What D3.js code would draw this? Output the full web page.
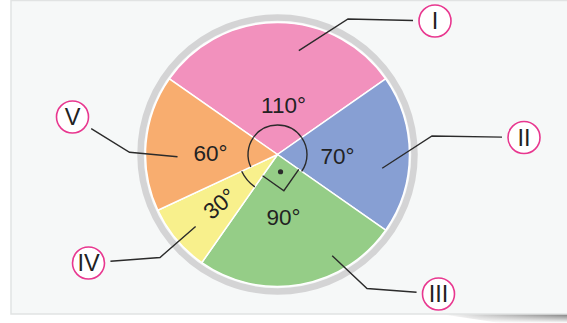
<!DOCTYPE html>
<html>
<head>
<meta charset="utf-8">
<script src="https://cdn.jsdelivr.net/npm/d3@7/dist/d3.min.js"></script>
<style>
  html, body { margin: 0; padding: 0; background: #ffffff; }
  svg { display: block; }
  text { font-family: "Liberation Sans", Arial, sans-serif; }
</style>
</head>
<body>
<svg id="chart" width="567" height="323"></svg>
<script>
// ---- data ----
const categories = ["I", "II", "III", "IV", "V"];
const angles = [110, 70, 90, 30, 60];
const angleLabels = ["110°", "70°", "90°", "30°", "60°"];
const colors = ["#f291bd", "#879fd3", "#95cd87", "#f8f08c", "#f8ad6f"];
const markerTypes = ["arc", "arc", "right", "arc2", "arc"];

// ---- layout ----
const W = 567, H = 323;
const cx = 277.5, cy = 154.5;
const R = 132;
const startDeg = -55;

const svg = d3.select("#chart");

// soft shadow under panel (bottom right)
const defs = svg.append("defs");
const gH = defs.append("linearGradient").attr("id", "shH")
  .attr("x1", "0").attr("x2", "1").attr("y1", "0").attr("y2", "0");
gH.append("stop").attr("offset", "0").attr("stop-color", "#fff");
gH.append("stop").attr("offset", "0.35").attr("stop-color", "#c8c8c8");
gH.append("stop").attr("offset", "1").attr("stop-color", "#7a7a7a");
const mk = defs.append("mask").attr("id", "shMask");
const gV = defs.append("linearGradient").attr("id", "shV")
  .attr("x1", "0").attr("x2", "0").attr("y1", "0").attr("y2", "1");
gV.append("stop").attr("offset", "0").attr("stop-color", "#fff");
gV.append("stop").attr("offset", "1").attr("stop-color", "#000");
mk.append("rect").attr("x", 430).attr("y", 314).attr("width", 137).attr("height", 9)
  .attr("fill", "url(#shV)");
svg.append("path")
  .attr("d", "M440,314 L567,314 L567,323 L500,323 Z")
  .attr("fill", "url(#shH)").attr("mask", "url(#shMask)");

// panel
svg.append("rect")
  .attr("x", 11).attr("y", 0.5).attr("width", 570).attr("height", 313.5)
  .attr("fill", "#f6f8f8").attr("stroke", "#e1e3e3").attr("stroke-width", 1.5);

const g = svg.append("g").attr("transform", `translate(${cx},${cy})`);

// outer grey ring
g.append("circle").attr("r", 137).attr("fill", "none")
  .attr("stroke", "#d4d4d5").attr("stroke-width", 6.5);

const toRad = d => d * Math.PI / 180;
const pie = d3.pie().sort(null).value(d => d.v)
  .startAngle(toRad(startDeg)).endAngle(toRad(startDeg + 360));
const data = categories.map((c, i) => ({ c, v: angles[i], label: angleLabels[i], color: colors[i], mk: markerTypes[i] }));
const arcs = pie(data);
const arcGen = d3.arc().innerRadius(0).outerRadius(R);

g.selectAll("path.slice").data(arcs).enter().append("path")
  .attr("class", "slice")
  .attr("d", arcGen)
  .attr("fill", d => d.data.color)
  .attr("stroke", "#ffffff").attr("stroke-width", 1.5);

// polar helper (degrees clockwise from 12 o'clock)
const polar = (deg, r) => [Math.sin(toRad(deg)) * r, -Math.cos(toRad(deg)) * r];

// angle markers
const ink = "#2b2b2b";
arcs.forEach(a => {
  const s = a.startAngle, e = a.endAngle;
  if (a.data.mk === "arc" || a.data.mk === "arc2") {
    const r = a.data.mk === "arc" ? 29.5 : 39.5;
    g.append("path")
      .attr("d", d3.arc().innerRadius(r).outerRadius(r).startAngle(s).endAngle(e)())
      .attr("fill", "none").attr("stroke", ink).attr("stroke-width", 1.4);
  } else {
    const side = 26;
    const sd = s * 180 / Math.PI, ed = e * 180 / Math.PI;
    const p1 = polar(sd, side), p2 = polar(ed, side);
    const p3 = [p1[0] + p2[0], p1[1] + p2[1]];
    g.append("path")
      .attr("d", `M${p1[0]},${p1[1]}L${p3[0]},${p3[1]}L${p2[0]},${p2[1]}`)
      .attr("fill", "none").attr("stroke", ink).attr("stroke-width", 1.4);
    const md = (sd + ed) / 2;
    const dp = polar(md, 17.5);
    g.append("circle").attr("cx", dp[0]).attr("cy", dp[1]).attr("r", 2.6).attr("fill", ink);
  }
});

// angle value labels (polar placement: [angleDeg, radius, rotation])
const labelPlacement = [[7, 49.5, 0], [91, 60, 0], [174.6, 63, 0], [230, 76, -40], [271.7, 67, 0]];
arcs.forEach((a, i) => {
  const [ad, rr, rot] = labelPlacement[i];
  const p = polar(ad, rr);
  g.append("text")
    .attr("transform", `translate(${p[0]},${p[1]}) rotate(${rot})`)
    .attr("text-anchor", "middle").attr("dy", "0.36em")
    .attr("font-size", 22.5).attr("fill", "#222")
    .text(a.data.label);
});

// call-out leaders: start (polar), elbow (page), badge centre (page)
const callouts = [
  { start: [11.6, 106], elbow: [348, 19], badge: [435, 21] },
  { start: [97.5, 105.6], elbow: [432, 136], badge: [524, 137.5] },
  { start: [151.6, 115], elbow: [367, 288.5], badge: [438.5, 294] },
  { start: [228.7, 109], elbow: [160, 257.5], badge: [88.5, 263] },
  { start: [268.7, 100], elbow: [129.5, 152.3], badge: [72.5, 117] }
];
const BR = 16;
callouts.forEach((c, i) => {
  const sp = polar(c.start[0], c.start[1]);
  const s = [cx + sp[0], cy + sp[1]];
  const [ex, ey] = c.elbow;
  const [bx, by] = c.badge;
  const dx = ex - bx, dy = ey - by, dl = Math.hypot(dx, dy);
  const gap = BR + 6;
  const end = [bx + dx / dl * gap, by + dy / dl * gap];
  svg.append("path")
    .attr("d", d3.line()([s, [ex, ey], end]))
    .attr("fill", "none").attr("stroke", ink).attr("stroke-width", 1.4);
  svg.append("circle").attr("cx", bx).attr("cy", by).attr("r", BR)
    .attr("fill", "#ffffff").attr("stroke", "#e8378f").attr("stroke-width", 1.6);
  svg.append("text").attr("x", bx).attr("y", by)
    .attr("text-anchor", "middle").attr("dy", "0.36em")
    .attr("font-size", 23.5).attr("fill", "#222")
    .text(categories[i]);
});
</script>
</body>
</html>
